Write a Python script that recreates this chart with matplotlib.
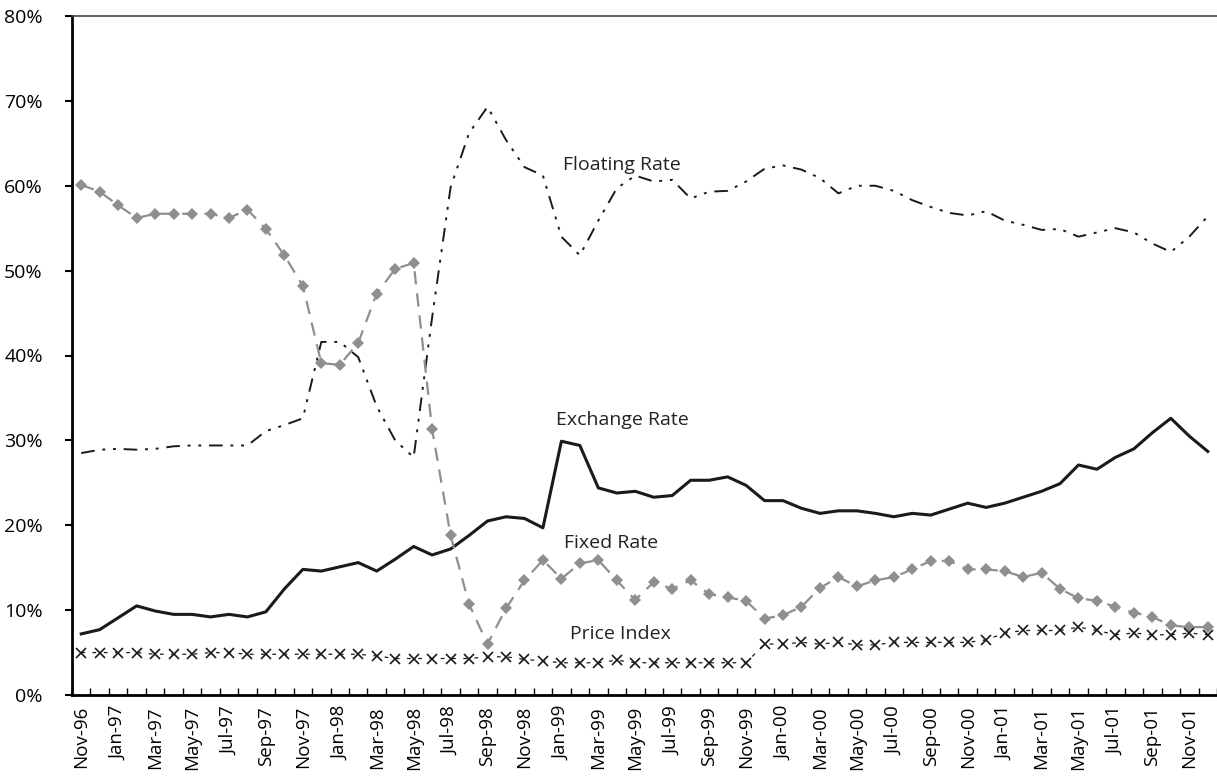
import numpy as np
import pandas as pd
import matplotlib
matplotlib.use("Agg")
import matplotlib.pyplot as plt
from matplotlib.ticker import PercentFormatter

plt.rcParams['font.family'] = ['Open Sans', 'DejaVu Sans']

months = pd.date_range('1996-11-01', periods=62, freq='MS').strftime('%b-%y').tolist()

floating_rate = [28.5, 28.9, 29.0, 28.9, 29.0, 29.3, 29.4, 29.4, 29.4, 29.4, 31.1, 31.8,
                 32.6, 41.6, 41.6, 39.8, 34.0, 30.0, 28.0, 44.5, 59.8, 66.2, 69.3, 65.4,
                 62.2, 61.2, 54.0, 51.8, 55.9, 59.7, 61.2, 60.5, 60.7, 58.5, 59.3, 59.4,
                 60.5, 62.0, 62.4, 61.9, 60.9, 59.1, 60.0, 60.0, 59.4, 58.3, 57.5, 56.8,
                 56.5, 57.0, 55.9, 55.4, 54.8, 54.9, 54.0, 54.5, 55.0, 54.5, 53.2, 52.2,
                 54.0, 56.4]

exchange_rate = [7.2, 7.7, 9.1, 10.5, 9.9, 9.5, 9.5, 9.2, 9.5, 9.2, 9.8, 12.5,
                 14.8, 14.6, 15.1, 15.6, 14.6, 16.0, 17.5, 16.5, 17.2, 18.8, 20.5, 21.0,
                 20.8, 19.7, 29.9, 29.4, 24.4, 23.8, 24.0, 23.3, 23.5, 25.3, 25.3, 25.7,
                 24.7, 22.9, 22.9, 22.0, 21.4, 21.7, 21.7, 21.4, 21.0, 21.4, 21.2, 21.9,
                 22.6, 22.1, 22.6, 23.3, 24.0, 24.9, 27.1, 26.6, 28.0, 29.0, 30.9, 32.6,
                 30.5, 28.7]

fixed_rate = [60.1, 59.3, 57.7, 56.2, 56.7, 56.7, 56.7, 56.7, 56.2, 57.2, 54.9, 51.8,
              48.2, 39.1, 38.9, 41.5, 47.3, 50.2, 50.9, 31.3, 18.8, 10.7, 6.0, 10.2,
              13.5, 15.9, 13.7, 15.5, 15.9, 13.5, 11.2, 13.3, 12.5, 13.5, 11.9, 11.5,
              11.1, 9.0, 9.4, 10.4, 12.6, 13.9, 12.8, 13.5, 13.9, 14.8, 15.8, 15.8,
              14.8, 14.8, 14.6, 13.9, 14.4, 12.5, 11.4, 11.1, 10.4, 9.7, 9.2, 8.2,
              8.0, 8.0]

price_index = [5.0, 5.0, 5.0, 5.0, 4.8, 4.8, 4.8, 5.0, 5.0, 4.8, 4.8, 4.8,
               4.8, 4.8, 4.8, 4.8, 4.6, 4.3, 4.3, 4.3, 4.3, 4.3, 4.5, 4.5,
               4.2, 4.0, 3.8, 3.8, 3.8, 4.1, 3.8, 3.8, 3.8, 3.8, 3.8, 3.8,
               3.8, 6.0, 6.0, 6.2, 6.0, 6.2, 5.9, 5.9, 6.2, 6.2, 6.2, 6.2,
               6.2, 6.5, 7.3, 7.6, 7.6, 7.6, 8.0, 7.6, 7.1, 7.3, 7.1, 7.1,
               7.3, 7.1]

x = np.arange(len(months))

fig = plt.figure(figsize=(12.17, 7.79), dpi=100)
ax = fig.add_axes([72 / 1217, 84 / 779, 1 - 72 / 1217, (695 - 16) / 779])

ax.plot(x, floating_rate, color='#1a1a1a', lw=1.4,
        linestyle=(0, (7, 4, 1.5, 4, 1.5, 4)))
ax.plot(x, exchange_rate, color='#1a1a1a', lw=2.2)
ax.plot(x, fixed_rate, color='#8f8f8f', lw=1.6, linestyle=(0, (6, 4)),
        marker='D', markersize=6, markeredgewidth=0)
ax.plot(x, price_index, color='#1a1a1a', lw=0.9, linestyle=(0, (3, 6)),
        marker='x', markersize=7, markeredgewidth=1.2)

ax.text(29.3, 62.4, 'Floating Rate', ha='center', va='center', fontsize=14, color='#222222')
ax.text(29.3, 32.4, 'Exchange Rate', ha='center', va='center', fontsize=14, color='#222222')
ax.text(28.7, 17.9, 'Fixed Rate', ha='center', va='center', fontsize=14, color='#222222')
ax.text(29.2, 7.2, 'Price Index', ha='center', va='center', fontsize=14, color='#222222')

ax.set_xlim(-0.5, len(months) - 0.5)
ax.set_ylim(0, 80)
ax.set_yticks(np.arange(0, 81, 10))
ax.yaxis.set_major_formatter(PercentFormatter(decimals=0))
ax.tick_params(axis='y', direction='out', length=5, width=1.5, labelsize=14, pad=16)

ax.set_xticks(x[::2])
ax.set_xticklabels(months[::2], rotation=90, fontsize=13.5)
ax.tick_params(axis='x', which='major', length=0, pad=8)
ax.set_xticks(np.arange(-0.5, len(months), 1), minor=True)
ax.tick_params(axis='x', which='minor', direction='in', length=5, width=1)

ax.spines['left'].set_linewidth(2)
ax.spines['bottom'].set_linewidth(2)
ax.spines['top'].set_linewidth(1.2)
ax.spines['top'].set_color('#444444')
ax.spines['right'].set_visible(False)

fig.savefig('out.png', dpi=100)
